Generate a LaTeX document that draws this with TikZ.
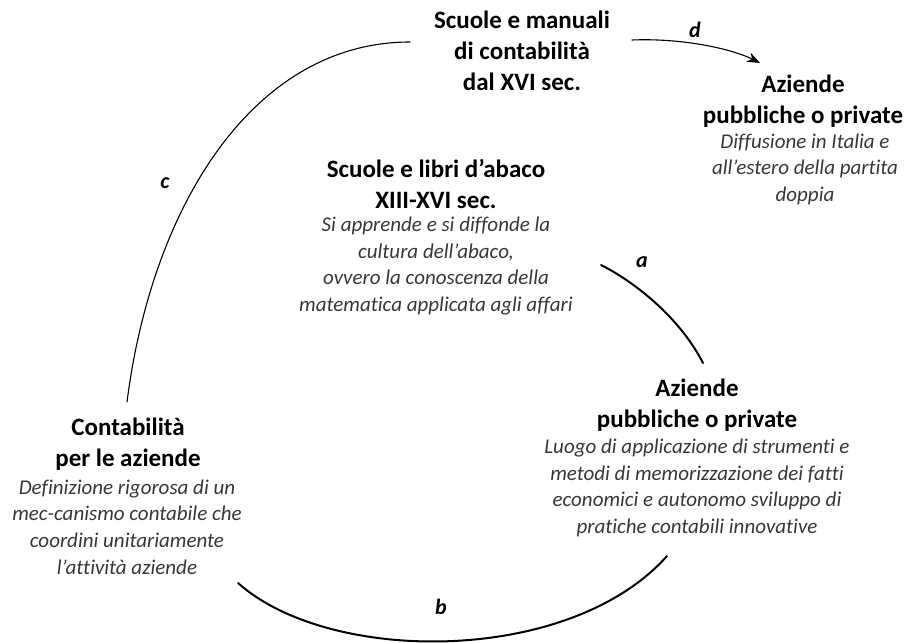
\documentclass[tikz,border=0pt]{standalone}
\usepackage{fontspec}
\setmainfont{Carlito}[Ligatures=NoCommon]
\usetikzlibrary{arrows.meta}
\tikzset{
  head/.style={font=\fontsize{25}{30.7}\selectfont\bfseries, align=center, inner sep=0pt},
  body/.style={font=\fontsize{21}{26.6}\selectfont\itshape, align=center, inner sep=0pt, text=black!78},
  lbl/.style={font=\fontsize{22}{24}\selectfont\bfseries\itshape, inner sep=0pt},
  thickarc/.style={line width=2pt, line cap=round},
  thinarc/.style={line width=1.1pt, line cap=round},
}
\begin{document}
\begin{tikzpicture}[x=1pt, y=-1pt]
\path[use as bounding box] (0,0) rectangle (912,642);

% top block
\node[head] (topH) at (522,51) {Scuole e manuali\\di contabilità\\dal XVI sec.};
% right-top block
\node[head] (rtH) at (803,101) {Aziende\\pubbliche o private};
\node[body] (rtB) at (805,169) {Diffusione in Italia e\\all’estero della partita\\doppia};
% middle block
\node[head] (midH) at (436,184) {Scuole e libri d’abaco\\XIII-XVI sec.};
\node[body] (midB) at (436,266) {Si apprende e si diffonde la\\cultura dell’abaco,\\ovvero la conoscenza della\\matematica applicata agli affari};
% right-bottom block
\node[head] (rbH) at (697,405) {Aziende\\pubbliche o private};
\node[body] (rbB) at (697,488) {Luogo di applicazione di strumenti e\\metodi di memorizzazione dei fatti\\economici e autonomo sviluppo di\\pratiche contabili innovative};
% left block
\node[head] (lH) at (128,444) {Contabilità\\per le aziende};
\node[body] (lB) at (127,527) {Definizione rigorosa di un\\mec-canismo contabile che\\coordini unitariamente\\l’attività aziende};

% arc end points
\coordinate (a1) at (601,265);
\coordinate (a2) at (703,363);
\coordinate (b1) at (667,556);
\coordinate (b2) at (238,583);
\coordinate (c1) at (410,42);
\coordinate (c2) at (127,402);
\coordinate (d1) at (632,40);
\coordinate (d2) at (760,63);

\draw[thickarc] (a1) .. controls (635,282) and (680,318) .. (a2);
\draw[thickarc] (b1) .. controls (570,665) and (330,665) .. (b2);
\draw[thinarc] (c1) .. controls (254,42) and (152,205) .. (c2);
\draw[thinarc, -{Stealth[length=13pt,width=10pt]}] (d1) .. controls (680,38) and (730,48) .. (d2);

% labels
\node[lbl] (la) at (642,262) {a};
\node[lbl] (lb) at (441,607) {b};
\node[lbl] (lc) at (165,183) {c};
\node[lbl] (ld) at (695,30) {d};
\end{tikzpicture}
\end{document}
